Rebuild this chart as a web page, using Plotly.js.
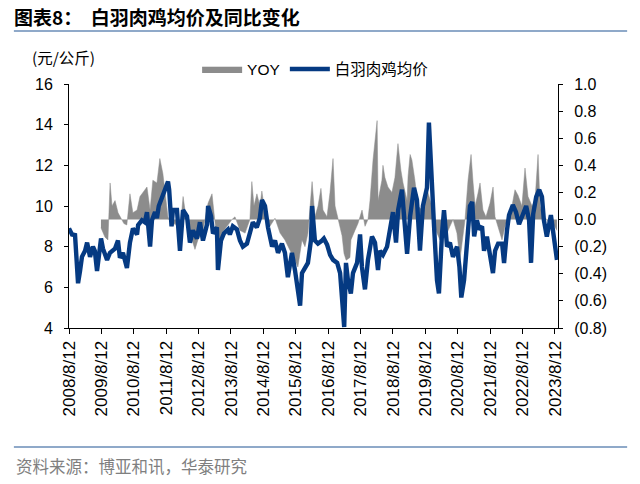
<!DOCTYPE html>
<html>
<head>
<meta charset="utf-8">
<script src="https://cdn.plot.ly/plotly-3.0.1.min.js"></script>
<style>html,body{margin:0;padding:0;background:#fff;}#chart{width:640px;height:484px;}</style>
</head>
<body>
<div id="chart"></div>
<script>
// 白羽肉鸡均价 (元/公斤)
const priceDates = [
'2008-08-12','2008-09-15','2008-10-19','2008-11-22','2008-12-14','2009-01-05','2009-02-09','2009-03-04','2009-04-06','2009-05-09','2009-05-30','2009-06-24',
'2009-08-08','2009-08-30','2009-10-15','2009-11-17','2010-01-12','2010-02-15','2010-03-09','2010-04-12','2010-05-27','2010-06-30','2010-08-03','2010-09-18',
'2010-09-30','2010-11-12','2010-12-15','2011-01-08','2011-02-12','2011-03-05','2011-04-09','2011-04-30','2011-05-21','2011-06-24','2011-07-30','2011-09-02',
'2011-09-15','2011-10-12','2011-10-27','2011-12-12','2012-01-15','2012-02-18','2012-04-03','2012-05-06','2012-06-09','2012-07-24','2012-08-27','2012-09-30',
'2012-11-15','2012-11-27','2012-12-30','2013-01-21','2013-03-06','2013-03-18','2013-04-21','2013-05-24','2013-07-09','2013-07-30','2013-09-02','2013-10-18',
'2013-11-21','2013-12-24','2014-02-08','2014-03-12','2014-04-15','2014-05-30','2014-07-03','2014-07-27','2014-08-30','2014-10-03','2014-11-18','2014-12-21',
'2015-01-24','2015-03-09','2015-04-12','2015-05-15','2015-06-30','2015-08-03','2015-09-06','2015-09-30','2015-10-21','2015-11-24','2015-12-27','2016-01-30',
'2016-02-12','2016-03-15','2016-04-18','2016-06-03','2016-06-24','2016-07-30','2016-09-02','2016-10-06','2016-11-21','2016-12-24','2017-01-15','2017-02-08',
'2017-02-28','2017-03-21','2017-04-24','2017-05-18','2017-07-03','2017-08-06','2017-08-27','2017-09-30','2017-11-03','2017-12-18','2018-01-21','2018-02-24',
'2018-03-18','2018-04-21','2018-06-06','2018-07-09','2018-08-12','2018-09-15','2018-10-09','2018-11-21','2018-12-15','2019-01-18','2019-02-21','2019-04-06',
'2019-05-09','2019-06-12','2019-07-15','2019-08-30','2019-09-21','2019-10-24','2019-11-18','2019-12-21','2020-01-12','2020-02-15','2020-03-09','2020-04-12',
'2020-05-15','2020-06-18','2020-08-03','2020-08-30','2020-09-20','2020-10-21','2020-11-24','2020-12-27','2021-01-21','2021-02-12','2021-03-15','2021-04-09',
'2021-05-12','2021-06-03','2021-07-06','2021-08-09','2021-09-12','2021-10-06','2021-11-09','2021-12-24','2022-01-15','2022-02-18','2022-03-12','2022-04-24',
'2022-05-30','2022-07-03','2022-08-15','2022-09-21','2022-10-24','2022-11-15','2022-12-09','2023-01-12','2023-02-15','2023-03-18','2023-04-09','2023-05-12',
'2023-06-27','2023-07-21','2023-09-03'
];
const priceValues = [
8.9,8.6,8.57,6.2,6.8,7.5,7.8,8.2,7.5,8.0,7.8,6.8,
8.4,7.9,7.35,7.7,7.9,8.3,7.45,7.7,6.95,8.2,8.9,8.6,
9.06,9.3,9.2,9.7,8.0,9.3,9.7,9.4,10.0,10.4,10.9,11.2,
10.8,9.0,9.8,9.8,7.8,9.8,9.5,8.2,8.8,8.4,9.2,8.3,
9.1,10.0,9.5,8.65,8.95,6.85,8.3,8.65,8.85,8.6,9.0,8.85,
8.3,8.0,8.15,8.6,9.2,8.95,9.4,10.3,10.0,8.95,8.0,8.3,
7.7,8.15,7.7,6.5,7.7,6.85,6.0,5.1,6.7,7.0,7.2,8.3,
10.0,8.3,8.15,8.3,8.4,8.1,7.6,7.35,7.2,6.7,5.5,4.05,
7.2,6.4,5.7,6.7,7.2,8.6,7.0,5.9,7.35,8.5,8.2,6.85,
7.8,7.6,8.0,8.8,9.7,8.2,9.8,10.8,9.7,7.65,9.5,10.9,
10.3,7.8,10.0,10.9,14.1,10.6,9.0,6.35,5.7,8.6,9.8,8.0,
8.2,7.5,8.0,7.0,5.5,6.35,8.5,10.0,10.2,8.5,9.3,8.85,
9.0,7.8,8.5,7.7,6.7,7.8,8.15,8.15,7.2,8.85,9.55,10.05,
9.7,9.1,9.6,10.0,9.3,7.2,9.6,10.45,10.8,10.45,9.3,8.5,
9.55,8.7,7.35
];

// YOY 同比
const yoyDates = [
'2009-08-07','2009-09-22','2009-10-25','2009-11-18','2009-12-10','2010-01-13','2010-02-16','2010-03-31','2010-04-23','2010-05-26','2010-06-30','2010-08-02',
'2010-09-18','2010-10-21','2010-11-24','2011-01-08','2011-02-12','2011-03-15','2011-04-30','2011-06-02','2011-07-06','2011-07-29','2011-09-01','2011-10-16',
'2011-11-20','2012-01-15','2012-02-19','2012-04-02','2012-05-06','2012-07-02','2012-08-04','2012-10-01','2012-11-26','2013-01-10','2013-02-14','2013-03-18',
'2013-05-02','2013-06-28','2013-08-23','2013-09-26','2013-11-22','2014-01-18','2014-03-13','2014-04-04','2014-04-28','2014-05-31','2014-07-04','2014-07-26',
'2014-08-30','2014-10-03','2014-10-25','2014-12-21','2015-02-16','2015-04-12','2015-06-06','2015-08-02','2015-09-05','2015-10-21','2015-11-24','2015-12-28',
'2016-02-12','2016-03-15','2016-04-19','2016-05-22','2016-06-14','2016-07-29','2016-09-01','2016-10-05','2016-10-28','2016-12-01','2017-01-15','2017-02-06',
'2017-03-02','2017-04-14','2017-04-25','2017-06-09','2017-07-13','2017-08-28','2017-10-01','2017-11-03','2017-11-26','2017-12-30','2018-02-14','2018-02-25',
'2018-04-09','2018-04-21','2018-05-13','2018-06-16','2018-07-31','2018-09-03','2018-10-07','2018-11-10','2018-12-03','2019-01-18','2019-01-29','2019-02-21',
'2019-03-13','2019-04-16','2019-05-20','2019-07-04','2019-08-06','2019-09-10','2019-10-14','2019-11-05','2019-12-21','2020-01-24','2020-02-28','2020-04-12',
'2020-05-15','2020-06-19','2020-08-02','2020-09-05','2020-09-29','2020-11-01','2020-12-05','2021-01-08','2021-01-31','2021-02-23','2021-03-26','2021-04-19',
'2021-05-22','2021-06-25','2021-08-09','2021-09-13','2021-10-05','2021-11-08','2021-12-23','2022-01-26','2022-03-02','2022-04-14','2022-05-18','2022-06-21',
'2022-08-04','2022-09-08','2022-10-12','2022-11-26','2022-12-30','2023-02-02','2023-02-25','2023-03-29','2023-05-13','2023-06-16','2023-07-20','2023-09-03'
];
const yoyValues = [
-0.06,-0.13,-0.15,0.27,0.10,0.14,0.05,0.0,-0.03,-0.04,0.19,0.05,
0.07,0.17,0.20,0.24,0.07,0.29,0.27,0.45,0.34,0.22,0.02,-0.05,
-0.03,-0.08,0.17,-0.03,-0.10,-0.22,-0.15,-0.08,0.12,0.19,-0.03,-0.20,
-0.10,-0.05,0.0,0.02,-0.08,-0.10,0.0,0.28,0.10,0.19,0.10,0.21,
0.05,-0.05,-0.05,0.01,-0.10,-0.15,-0.22,-0.30,-0.35,-0.15,-0.20,-0.10,
0.28,0.02,0.10,0.23,0.07,0.02,0.20,0.45,0.10,0.0,-0.12,-0.25,
-0.30,-0.28,-0.15,-0.08,-0.03,0.07,-0.05,0.0,0.14,0.44,0.73,0.14,
0.29,0.40,0.31,0.24,0.20,0.31,0.56,0.36,0.27,0.14,0.32,0.48,
0.44,0.29,0.10,0.07,0.14,0.20,0.12,0.0,-0.10,-0.15,-0.05,-0.10,
-0.05,0.0,-0.10,-0.30,-0.17,0.0,0.29,0.48,0.27,0.10,0.19,0.27,
0.07,0.02,0.12,0.24,0.02,-0.05,-0.15,-0.05,0.02,0.10,0.22,0.18,
0.10,0.38,0.17,0.10,0.14,0.48,0.10,0.02,0.0,-0.05,-0.03,-0.08
];

const xTickVals = ['2008-08-12','2009-08-12','2010-08-12','2011-08-12','2012-08-12','2013-08-12','2014-08-12','2015-08-12','2016-08-12','2017-08-12','2018-08-12','2019-08-12','2020-08-12','2021-08-12','2022-08-12','2023-08-12'];
const xTickText = ['2008/8/12','2009/8/12','2010/8/12','2011/8/12','2012/8/12','2013/8/12','2014/8/12','2015/8/12','2016/8/12','2017/8/12','2018/8/12','2019/8/12','2020/8/12','2021/8/12','2022/8/12','2023/8/12'];
const leftTicks = [4,6,8,10,12,14,16];
const rightTickVals = [-0.8,-0.6,-0.4,-0.2,0.0,0.2,0.4,0.6,0.8,1.0];
const rightTickText = ['(0.8)','(0.6)','(0.4)','(0.2)','0.0','0.2','0.4','0.6','0.8','1.0'];

const FONT = 'Liberation Sans, Arial, sans-serif';
const CJK = 'Noto Sans CJK SC, sans-serif';

const traces = [
  {
    type: 'scatter', mode: 'lines', name: 'YOY',
    x: yoyDates, y: yoyValues, yaxis: 'y',
    fill: 'tozeroy', fillcolor: '#8c8c8c',
    line: {color: '#8c8c8c', width: 0.5, shape: 'linear'},
    hoverinfo: 'skip'
  },
  {
    type: 'scatter', mode: 'lines', name: '白羽肉鸡均价',
    x: priceDates, y: priceValues, yaxis: 'y2',
    line: {color: '#053a82', width: 4.4},
    hoverinfo: 'skip'
  }
];

const layout = {
  width: 640, height: 484,
  margin: {l: 69, r: 82, t: 84, b: 156},
  paper_bgcolor: '#fff', plot_bgcolor: '#fff',
  font: {family: FONT, size: 15, color: '#000'},
  showlegend: true,
  legend: {
    orientation: 'h', x: 0.262, y: 1.06, xanchor: 'left', yanchor: 'middle',
    font: {family: FONT + ', ' + CJK, size: 15.5, color: '#000'},
    itemwidth: 40, tracegroupgap: 0, bgcolor: 'rgba(0,0,0,0)'
  },
  title: {
    text: '<b>图表8：  白羽肉鸡均价及同比变化</b>',
    font: {family: CJK, size: 19, color: '#000'},
    x: 14/640, xanchor: 'left', xref: 'container',
    y: 1 - 18/484, yanchor: 'middle', yref: 'container'
  },
  xaxis: {
    type: 'date', range: ['2008-08-12', '2023-09-15'],
    tickmode: 'array', tickvals: xTickVals, ticktext: xTickText,
    tickangle: -90, ticks: 'outside', ticklen: 5, tickcolor: '#000',
    showline: true, linecolor: '#000', linewidth: 1,
    showgrid: false, zeroline: false,
    tickfont: {family: FONT, size: 17, color: '#000'}
  },
  yaxis: {
    side: 'right', range: [-0.8, 1.0],
    tickmode: 'array', tickvals: rightTickVals, ticktext: rightTickText,
    ticks: 'outside', ticklen: 4, tickcolor: '#000',
    showline: true, linecolor: '#000', linewidth: 1,
    showgrid: false, zeroline: false, ticklabelstandoff: 8,
    tickfont: {family: FONT, size: 16, color: '#000'}
  },
  yaxis2: {
    overlaying: 'y', side: 'left', range: [4, 16],
    tickmode: 'array', tickvals: leftTicks,
    ticks: 'outside', ticklen: 4, tickcolor: '#000',
    showline: true, linecolor: '#000', linewidth: 1,
    showgrid: false, zeroline: false, ticklabelstandoff: 8,
    tickfont: {family: FONT, size: 16, color: '#000'}
  },
  shapes: [
    {type: 'line', xref: 'paper', yref: 'paper', x0: (14-69)/488, x1: (626-69)/488, y0: 1 + (84-31)/244, y1: 1 + (84-31)/244,
     line: {color: '#8fa9c9', width: 2}},
    {type: 'line', xref: 'paper', yref: 'paper', x0: (14-69)/488, x1: (626-69)/488, y0: (328-447)/244, y1: (328-447)/244,
     line: {color: '#8fa9c9', width: 2}}
  ],
  annotations: [
    {text: '(元/公斤)', xref: 'paper', yref: 'paper', x: (30-69)/488, y: 1 + (84-57)/244,
     xanchor: 'left', yanchor: 'middle', showarrow: false,
     font: {family: CJK, size: 15.5, color: '#000'}},
    {text: '资料来源：博亚和讯，华泰研究', xref: 'paper', yref: 'paper', x: (14-69)/488, y: (328-466)/244,
     xanchor: 'left', yanchor: 'middle', showarrow: false,
     font: {family: CJK, size: 16.5, color: '#7f7f7f'}}
  ]
};

Plotly.newPlot('chart', traces, layout, {displayModeBar: false, staticPlot: true});
</script>
</body>
</html>
